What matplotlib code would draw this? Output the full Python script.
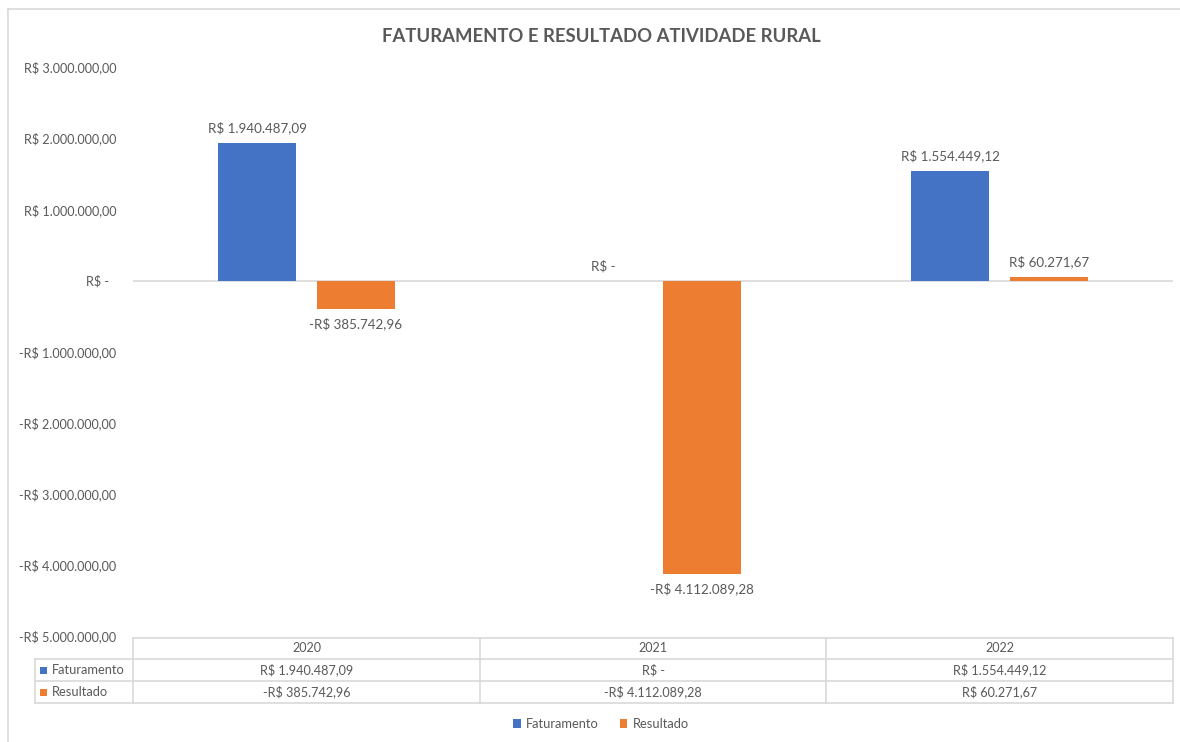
import matplotlib
matplotlib.use("Agg")
import matplotlib.pyplot as plt
from matplotlib.patches import Patch, Rectangle
from matplotlib.lines import Line2D

plt.rcParams['font.family'] = ['Lato', 'DejaVu Sans']

categories = ["2020", "2021", "2022"]
faturamento = [1940487.09, 0.0, 1554449.12]
resultado = [-385742.96, -4112089.28, 60271.67]
series_names = ["Faturamento", "Resultado"]
yticks = [3e6, 2e6, 1e6, 0, -1e6, -2e6, -3e6, -4e6, -5e6]

BLUE = "#4472C4"
ORANGE = "#ED7D31"
TXT = "#595959"
GRID = "#D9D9D9"

W, H = 1180, 742


def brl(v):
    if abs(v) < 0.005:
        return "R$ -"
    s = f"{abs(v):,.2f}".replace(",", "X").replace(".", ",").replace("X", ".")
    return ("-R$ " if v < 0 else "R$ ") + s


fig = plt.figure(figsize=(W / 100, H / 100), dpi=100)


def fx(px):
    return px / W


def fy(py):
    return 1 - py / H


# axes
ax = fig.add_axes([fx(133), fy(637), fx(1173) - fx(133), fy(68) - fy(637)])
ax.set_xlim(-0.5, 2.5)
ax.set_ylim(-5e6, 3e6)
for sp in ax.spines.values():
    sp.set_visible(False)
ax.set_xticks([])
ax.set_yticks([])
ax.axhline(0, color=GRID, lw=1.2, zorder=1)

bw = 0.225
off = 0.142
xs = list(range(len(categories)))
for i, (vals, col) in enumerate([(faturamento, BLUE), (resultado, ORANGE)]):
    sign = -1 if i == 0 else 1
    pos = [x + sign * off for x in xs]
    ax.bar(pos, vals, width=bw, color=col, zorder=2)
    for p, v in zip(pos, vals):
        dy = 11 if v >= 0 else -11
        ax.annotate(brl(v), (p, v), xytext=(0, dy), textcoords="offset points",
                    ha="center", va="center", fontsize=9.6, color=TXT)

# y tick labels
for t in yticks:
    lbl = brl(t)
    if t == 0:
        lbl = "R$ -  "
    ax.annotate(lbl, (0, t), xycoords=("figure fraction", "data"),
                xytext=(fx(116), 0), textcoords=("figure fraction", "offset points"),
                ha="right", va="center", fontsize=9.1, color=TXT)

# title
fig.text(fx(601), fy(37), "FATURAMENTO E RESULTADO ATIVIDADE RURAL",
         ha="center", va="center", fontsize=13.3, fontweight="bold", color=TXT)

# chart border
fig.add_artist(Line2D([fx(8), fx(8)], [fy(9), 0], color=GRID, lw=1.2))
fig.add_artist(Line2D([fx(8), 1], [fy(9), fy(9)], color=GRID, lw=1.2))

# data table
col_edges = [133, 480, 826, 1173]
row_edges = [638, 659, 681, 703]
label_left = 35
lw = 1.2
fig.add_artist(Line2D([fx(133), fx(1173)], [fy(638), fy(638)], color=GRID, lw=lw))
for r in row_edges[1:]:
    fig.add_artist(Line2D([fx(label_left), fx(1173)], [fy(r), fy(r)], color=GRID, lw=lw))
for c in col_edges:
    fig.add_artist(Line2D([fx(c), fx(c)], [fy(638), fy(703)], color=GRID, lw=lw))
fig.add_artist(Line2D([fx(label_left), fx(label_left)], [fy(659), fy(703)], color=GRID, lw=lw))

for j, cat in enumerate(categories):
    cx = (col_edges[j] + col_edges[j + 1]) / 2
    fig.text(fx(cx), fy((row_edges[0] + row_edges[1]) / 2), cat,
             ha="center", va="center", fontsize=9.1, color=TXT)

rows = [faturamento, resultado]
colors = [BLUE, ORANGE]
for r, (vals, name, col) in enumerate(zip(rows, series_names, colors)):
    cy = (row_edges[r + 1] + row_edges[r + 2]) / 2
    fig.add_artist(Rectangle((fx(40), fy(cy + 3.5)), fx(7), 7 / H, facecolor=col,
                             edgecolor="none", transform=fig.transFigure))
    fig.text(fx(52), fy(cy), name, ha="left", va="center", fontsize=9.3, color=TXT)
    for j, v in enumerate(vals):
        cx = (col_edges[j] + col_edges[j + 1]) / 2
        fig.text(fx(cx), fy(cy), brl(v), ha="center", va="center", fontsize=9.1, color=TXT)

# legend
handles = [Patch(facecolor=BLUE, edgecolor="none"), Patch(facecolor=ORANGE, edgecolor="none")]
fig.legend(handles, series_names, loc="center", bbox_to_anchor=(fx(601), fy(724)), ncol=2,
           frameon=False, handlelength=0.6, handleheight=0.6, handletextpad=0.4,
           columnspacing=1.6, fontsize=9.3, labelcolor=TXT)

fig.savefig("out.png", dpi=100)
